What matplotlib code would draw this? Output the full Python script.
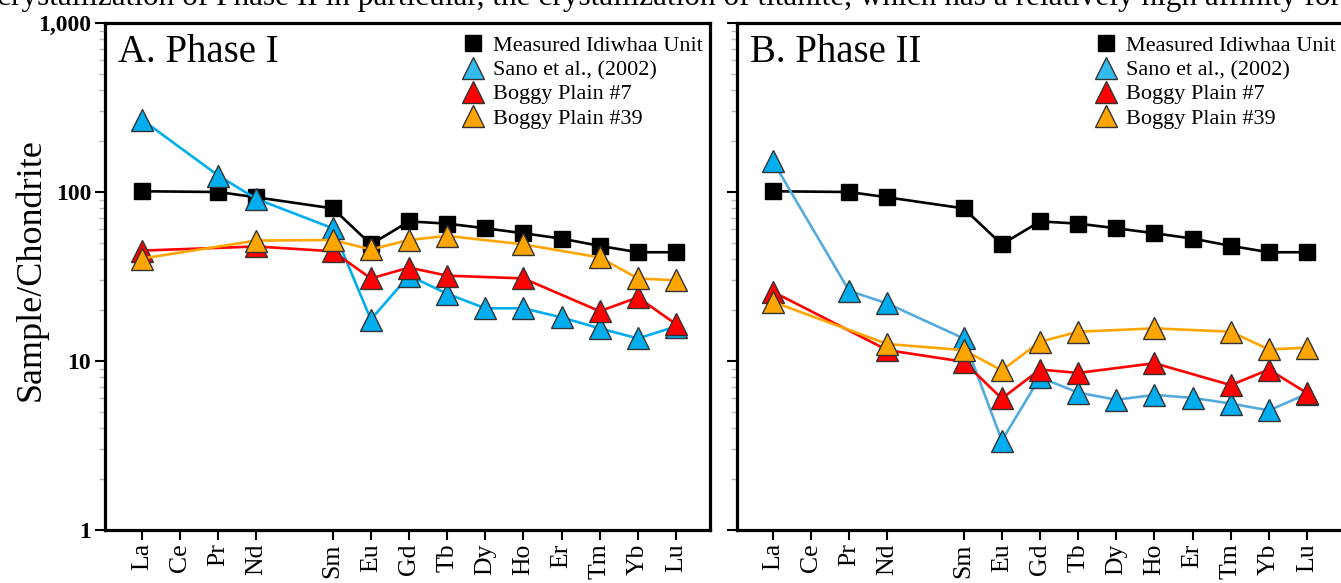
import matplotlib.pyplot as plt
from matplotlib.lines import Line2D

plt.rcParams['font.family'] = ['Liberation Serif', 'DejaVu Serif']

# Pm is kept only as a gap on the x axis (no data, no tick)
elements = ['La', 'Ce', 'Pr', 'Nd', 'Pm', 'Sm', 'Eu', 'Gd', 'Tb', 'Dy', 'Ho', 'Er', 'Tm', 'Yb', 'Lu']

measured = [101, None, 100, 93, None, 80, 49, 67, 65, 61, 57, 53, 48, 44, 44]

sano_1 = [268, None, 125, 91, None, 61, 17.6, 32, 25, 20.5, 20.5, 18.1, 15.6, 13.6, 16]
bp7_1 = [45, None, None, 47.6, None, 44.6, 30.8, 35.7, 32, None, 30.8, None, 19.7, 23.8, 16.5]
bp39_1 = [40.4, None, None, 51.6, None, 52, 45.7, 52, 55, None, 49, None, 41, 30.8, 30]

sano_2 = [152, None, 26, 21.9, None, 13.6, 3.38, 8.0, 6.5, 5.9, 6.3, 6.05, 5.6, 5.1, 6.4]
bp7_2 = [25.7, None, None, 11.6, None, 9.9, 6.0, 8.9, 8.5, None, 9.7, None, 7.2, 8.9, 6.45]
bp39_2 = [22.4, None, None, 12.6, None, 11.6, 8.8, 13.0, 14.9, None, 15.6, None, 14.9, 11.7, 12.0]

legend_labels = ['Measured Idiwhaa Unit', 'Sano et al., (2002)', 'Boggy Plain #7', 'Boggy Plain #39']
y_ticks = [1, 10, 100, 1000]
y_ticklabels = ['1', '10', '100', '1,000']

top_text = ('crystallization of Phase II in particular, the crystallization of titanite, '
            'which has a relatively high affinity for')

BLUE = '#00aeef'
RED = '#ff0000'
ORANGE = '#ffa500'
EDGE = '#333333'


def series(ax, vals, line_col, face, marker, ms, z):
    xs = [i for i, v in enumerate(vals) if v is not None]
    ys = [v for v in vals if v is not None]
    ax.plot(xs, ys, color=line_col, lw=1.9, marker=marker, ms=ms, mfc=face,
            mec=EDGE if marker == '^' else 'k', mew=1, zorder=z)


def panel(ax, sano, bp7, bp39, sano_line, title, xlim):
    series(ax, measured, 'k', 'k', 's', 11, 3)
    series(ax, sano, sano_line, BLUE, '^', 16, 4)
    series(ax, bp7, RED, RED, '^', 16, 5)
    series(ax, bp39, ORANGE, ORANGE, '^', 16, 6)

    ax.set_yscale('log')
    ax.set_ylim(1, 1000)
    ax.set_xlim(*xlim)
    ax.set_yticks(y_ticks)
    ax.set_yticklabels(y_ticklabels, fontweight='bold', fontsize=17)
    ax.tick_params(axis='y', which='major', length=7, width=1.5, pad=3)
    ax.tick_params(axis='y', which='minor', length=4, width=1, color='#bbbbbb')
    ticks = [i for i, e in enumerate(elements) if e != 'Pm']
    ax.set_xticks(ticks)
    ax.set_xticklabels([elements[i] for i in ticks], rotation=90, fontsize=18.5)
    ax.tick_params(axis='x', length=7.5, width=1.5, pad=2)
    for s in ax.spines.values():
        s.set_linewidth(2.3)

    ax.text(0.0215, 0.923, title, transform=ax.transAxes, fontsize=28, va='baseline')

    handles = [
        Line2D([], [], ls='none', marker='s', ms=11, mfc='k', mec='k'),
        Line2D([], [], ls='none', marker='^', ms=16, mfc='#33bbee', mec=EDGE, mew=1),
        Line2D([], [], ls='none', marker='^', ms=16, mfc=RED, mec=EDGE, mew=1),
        Line2D([], [], ls='none', marker='^', ms=16, mfc=ORANGE, mec=EDGE, mew=1),
    ]
    ax.legend(handles, legend_labels, loc='upper right', bbox_to_anchor=(0.988, 0.975),
              frameon=False, fontsize=16, handlelength=1.2, handletextpad=0.3,
              labelspacing=0.16, borderpad=0, borderaxespad=0)


fig = plt.figure(figsize=(13.41, 5.83), dpi=100)
ax1 = fig.add_axes([105 / 1341, 1 - 530 / 583, 605 / 1341, 507 / 583])
ax2 = fig.add_axes([737 / 1341, 1 - 530 / 583, 606 / 1341, 507 / 583])

panel(ax1, sano_1, bp7_1, bp39_1, BLUE, 'A. Phase I', (-0.97, 14.89))
panel(ax2, sano_2, bp7_2, bp39_2, '#55aadd', 'B. Phase II', (-0.94, 14.94))
ax2.set_yticklabels([])

ax1.set_ylabel('Sample/Chondrite', fontsize=26)
ax1.yaxis.set_label_coords(-0.122, 0.513)
ax1.yaxis.label.set_verticalalignment('center')

# line of body text from the page above the figure, only its lower part shows
fig.text(-0.002, 1 - 5 / 583, top_text, fontsize=22.5, va='baseline', ha='left')

fig.savefig('out.png', dpi=100)
